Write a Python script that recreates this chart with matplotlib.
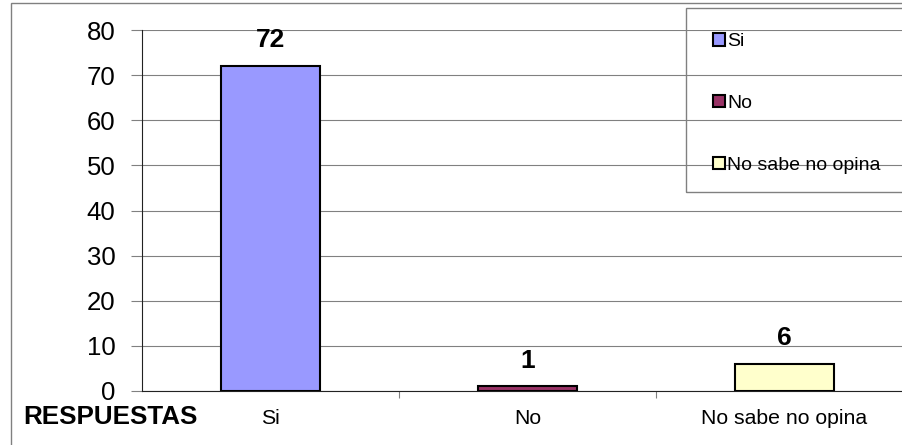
import matplotlib.pyplot as plt
from matplotlib.patches import Rectangle

categories = ['Si', 'No', 'No sabe no opina']
values = [72, 1, 6]
colors = ['#9999FF', '#993366', '#FFFFCC']
y_ticks = [0, 10, 20, 30, 40, 50, 60, 70, 80]

plt.rcParams['font.family'] = ['Liberation Sans', 'DejaVu Sans']

fig = plt.figure(figsize=(9.02, 4.45), dpi=100)
ax = fig.add_axes([142 / 902, 1 - 391 / 445, 771 / 902, 361 / 445])

x = list(range(len(categories)))
bars = ax.bar(x, values, width=0.385, color=colors, edgecolor='black',
              linewidth=1.5, zorder=3, label=categories)

for b, v in zip(bars, values):
    ax.annotate(str(v), (b.get_x() + b.get_width() / 2, v),
                xytext=(0, 18.5), textcoords='offset points',
                ha='center', va='center', fontsize=19, fontweight='bold')

ax.set_xlim(-0.5, 2.5)
ax.set_ylim(0, 80)
ax.set_yticks(y_ticks)
ax.tick_params(axis='y', labelsize=18.5, length=8, width=0.8, color='#808080',
               pad=11)
ax.set_xticks(x)
ax.set_xticklabels(categories)
ax.tick_params(axis='x', labelsize=15.3, length=0, pad=13)
ax.set_xticks([0.5, 1.5], minor=True)
ax.tick_params(axis='x', which='minor', length=5, width=0.8, color='#808080')

ax.yaxis.grid(True, color='#808080', linewidth=0.8, zorder=0)
ax.set_axisbelow(True)
for s in ['top', 'right']:
    ax.spines[s].set_visible(False)
ax.spines['left'].set_color('#222222')
ax.spines['bottom'].set_color('#222222')

fig.text(23 / 902, 1 - 417 / 445, 'RESPUESTAS', ha='left', va='center',
         fontsize=18.7, fontweight='bold')

# outer chart border and legend frame
fig.patches.append(Rectangle((11 / 902, -0.02), 1.0, 1 - 3 / 445 + 0.02,
                             transform=fig.transFigure, fill=False,
                             edgecolor='#808080', linewidth=1))
fig.patches.append(Rectangle((686 / 902, 1 - 192 / 445), 0.5, 184 / 445,
                             transform=fig.transFigure, fill=False,
                             edgecolor='#808080', linewidth=1, zorder=5))

leg = ax.legend(loc='upper left', bbox_to_anchor=(713 / 902, 1 - 33 / 445),
                bbox_transform=fig.transFigure, frameon=False, fontsize=14,
                handlelength=0.62, handleheight=0.62, handletextpad=0.1,
                labelspacing=2.3, borderpad=0, borderaxespad=0)

fig.savefig('out.png', dpi=100)
